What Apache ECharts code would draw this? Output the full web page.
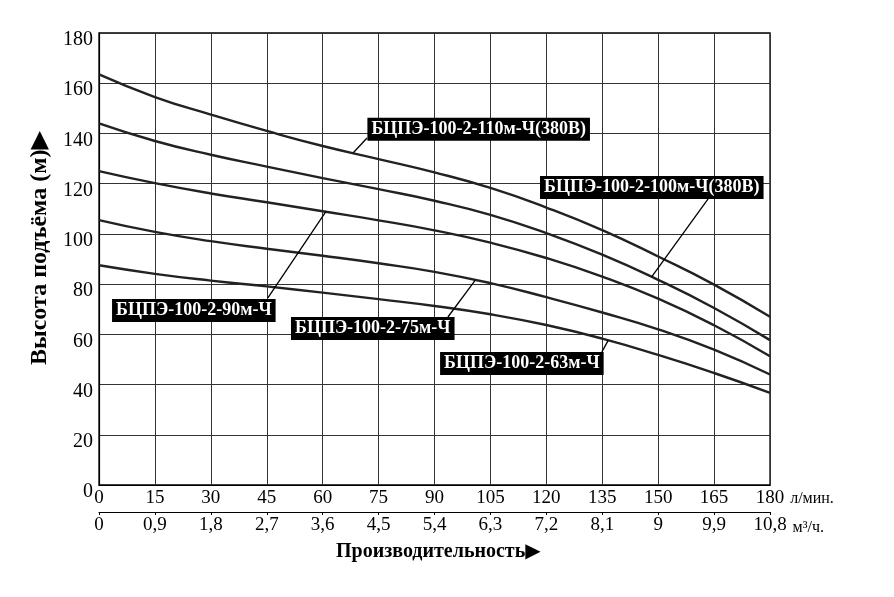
<!DOCTYPE html>
<html>
<head>
<meta charset="utf-8">
<title>БЦПЭ-100-2</title>
<script src="https://cdn.jsdelivr.net/npm/echarts@6.0.0/dist/echarts.min.js"></script>
<style>
    html, body { margin: 0; padding: 0; background: #fff; }
    #main { width: 894px; height: 597px; }
</style>
</head>
<body>
<div id="main"></div>
<script type="text/javascript">
    // подача, л/мин
    var flow = [0, 15, 30, 45, 60, 75, 90, 105, 120, 135, 150, 165, 180];
    // подписи второй шкалы, м3/ч
    var m3hTicks = ['0', '0,9', '1,8', '2,7', '3,6', '4,5', '5,4', '6,3', '7,2', '8,1', '9', '9,9', '10,8'];

    // напор, м
    var head110 = [163.5, 154.5, 147.5, 141, 135, 129.8, 124.5, 118.3, 110.5, 101.5, 91, 79.8, 67];
    var head100 = [144, 137, 131.5, 126.8, 122.2, 117.8, 113.2, 107.6, 100.3, 91.7, 81.7, 70.5, 57.7];
    var head90  = [125, 120.2, 116.1, 112.6, 109, 105.4, 101.4, 96.5, 90.4, 83, 74.2, 63.6, 51.3];
    var head75  = [105.5, 100.8, 97.1, 94.1, 91.3, 88.3, 84.9, 80.4, 74.8, 68.7, 62, 53.9, 44];
    var head63  = [87.5, 84.1, 81.4, 79.1, 76.6, 74, 71.3, 68, 63.7, 58.3, 51.8, 44.6, 36.7];

    var names = ['БЦПЭ-100-2-110м-Ч(380В)', 'БЦПЭ-100-2-100м-Ч(380В)', 'БЦПЭ-100-2-90м-Ч',
                 'БЦПЭ-100-2-75м-Ч', 'БЦПЭ-100-2-63м-Ч'];
    var heads = [head110, head100, head90, head75, head63];

    // выноски: [левый край подписи], [начало линии], [точка на кривой]
    var callouts = [
        [[72, 141.7], [71.9, 138.2], [68.2, 132.3]],
        [[118.3, 118.5], [163.4, 113.9], [148.3, 83]],
        [[3.5, 69.5], [45.3, 74.5], [60.9, 109]],
        [[51.5, 62.3], [93.6, 66.9], [100.9, 81.5]],
        [[91.5, 48.4], [134.9, 53], [136.6, 57.6]]
    ];

    var serif = "'Liberation Serif', 'DejaVu Serif', serif";

    var series = [];
    for (var i = 0; i < heads.length; i++) {
        var pts = [];
        for (var j = 0; j < flow.length; j++) {
            pts.push([flow[j], heads[i][j]]);
        }
        var c = callouts[i];
        series.push({
            name: names[i],
            type: 'line',
            xAxisIndex: 0,
            smooth: 0.5,
            symbol: 'none',
            data: pts,
            lineStyle: { color: '#222', width: 2.4 },
            markLine: {
                silent: true,
                symbol: ['none', 'none'],
                label: { show: false },
                lineStyle: { color: '#000', width: 1.3, type: 'solid' },
                data: [[{ coord: c[1] }, { coord: c[2] }]]
            },
            markPoint: {
                silent: true,
                symbol: 'rect',
                symbolSize: 0,
                data: [{
                    coord: c[0],
                    label: {
                        show: true,
                        position: 'right',
                        distance: 0,
                        formatter: names[i],
                        color: '#fff',
                        backgroundColor: '#000',
                        fontFamily: serif,
                        fontWeight: 'bold',
                        fontSize: 18,
                        padding: [3, 4, 2, 4]
                    }
                }]
            }
        });
    }

    var myChart = echarts.init(document.getElementById('main'));
    var option = {
        animation: false,
        backgroundColor: '#fff',
        title: {
            text: 'Производительность▶',
            left: 331,
            top: 537,
            textStyle: { fontFamily: serif, fontWeight: 'bold', fontSize: 20, color: '#000' }
        },
        grid: { left: 99, right: 124, top: 33, bottom: 112 },
        xAxis: [{
            type: 'value',
            position: 'bottom',
            min: 0, max: 180, interval: 15,
            name: 'л/мин.',
            nameLocation: 'end',
            nameGap: 10,
            nameTextStyle: { fontFamily: serif, fontSize: 16, color: '#000', verticalAlign: 'top', padding: [6, 0, 0, 0] },
            axisLine: { show: true, lineStyle: { color: '#000', width: 1.2 } },
            axisTick: { show: false },
            axisLabel: { fontFamily: serif, fontSize: 19, color: '#000', margin: 4 },
            splitLine: { show: true, lineStyle: { color: '#333', width: 1 } }
        }, {
            type: 'value',
            position: 'bottom',
            offset: 27,
            min: 0, max: 10.8, interval: 0.9,
            name: 'м³/ч.',
            nameLocation: 'end',
            nameGap: 14,
            nameTextStyle: { fontFamily: serif, fontSize: 16, color: '#000', verticalAlign: 'top', padding: [8, 0, 0, 0] },
            axisLine: { show: true, lineStyle: { color: '#000', width: 1.2 } },
            axisTick: { show: true, length: 3, lineStyle: { color: '#000' } },
            axisLabel: {
                fontFamily: serif, fontSize: 19, color: '#000', margin: 4,
                formatter: function (v) { return m3hTicks[Math.round(v / 0.9)]; }
            },
            splitLine: { show: false }
        }],
        yAxis: {
            type: 'value',
            min: 0, max: 180, interval: 20,
            name: 'Высота подъёма (м)▶',
            nameLocation: 'middle',
            nameRotate: 90,
            nameGap: 44,
            nameTextStyle: { fontFamily: serif, fontWeight: 'bold', fontSize: 24, color: '#000', padding: [0, 0, 0, 22] },
            axisLine: { show: true, lineStyle: { color: '#000', width: 1.2 } },
            axisTick: { show: false },
            axisLabel: {
                color: '#000', margin: 6,
                formatter: function (v) { return '{t|' + v + '}'; },
                rich: { t: { fontFamily: serif, fontSize: 20, color: '#000', padding: [14, 0, 0, 0] } }
            },
            splitLine: { show: true, lineStyle: { color: '#333', width: 1 } }
        },
        graphic: [{
            type: 'rect',
            silent: true,
            shape: { x: 99, y: 33, width: 671, height: 452 },
            style: { fill: 'none', stroke: '#000', lineWidth: 1.3 }
        }],
        series: series
    };
    myChart.setOption(option);
</script>
</body>
</html>
